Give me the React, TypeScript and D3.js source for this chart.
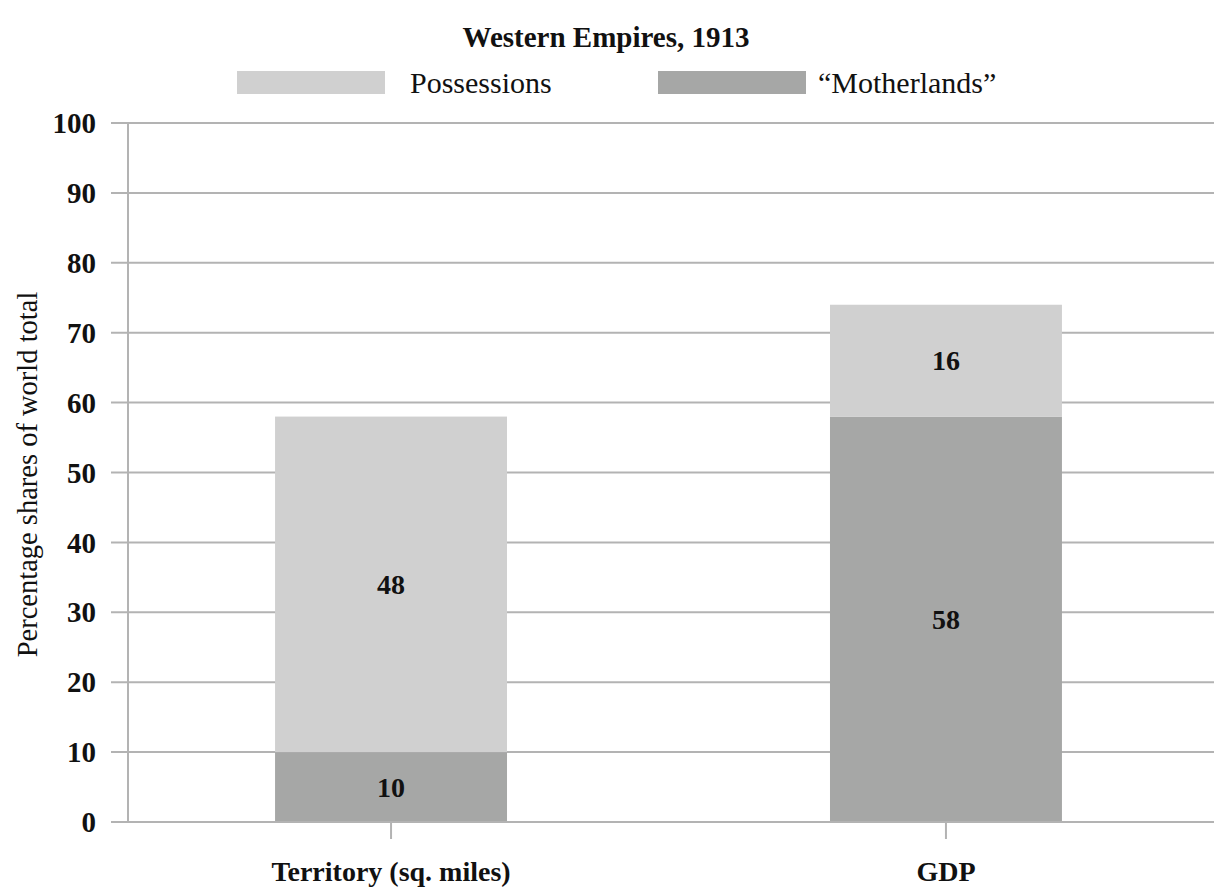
import React from "react";
import * as d3 from "d3";

const categories = ["Territory (sq. miles)", "GDP"];
const motherlands = [10, 58];
const possessions = [48, 16];
const yTicks = [0, 10, 20, 30, 40, 50, 60, 70, 80, 90, 100];
const seriesNames = ["Possessions", "\u201CMotherlands\u201D"];
const title = "Western Empires, 1913";
const yLabel = "Percentage shares of world total";

const W = 1214;
const H = 888;
const FONT = "'Liberation Serif', 'DejaVu Serif', serif";
const C_POS = "#d0d0d0";
const C_MOT = "#a6a7a6";
const C_GRID = "#b3b3b3";

export default function App() {
  const x = d3
    .scaleBand<string>()
    .domain(categories)
    .range([128, 1209])
    .paddingInner(0.582)
    .paddingOuter(0.265);
  const y = d3.scaleLinear().domain([0, 100]).range([822, 123]);

  const stacked = categories.map((c, i) => ({
    cat: c,
    segs: [
      { key: "mot", y0: 0, y1: motherlands[i], v: motherlands[i], color: C_MOT },
      {
        key: "pos",
        y0: motherlands[i],
        y1: motherlands[i] + possessions[i],
        v: possessions[i],
        color: C_POS,
      },
    ],
  }));

  return (
    <svg
      width={W}
      height={H}
      style={{ position: "absolute", left: 0, top: 0, background: "#fff" }}
      fontFamily={FONT}
    >
      <rect width={W} height={H} fill="#fff" />
      <text x={606} y={47} textAnchor="middle" fontSize={29} fontWeight="bold" fill="#111">
        {title}
      </text>
      {/* legend */}
      <rect x={237} y={71} width={148} height={23} fill={C_POS} />
      <text x={410} y={93} fontSize={30} fill="#111">
        {seriesNames[0]}
      </text>
      <rect x={658} y={71} width={148} height={23} fill={C_MOT} />
      <text x={818} y={93} fontSize={30} fill="#111">
        {seriesNames[1]}
      </text>

      {/* grid + ticks */}
      {yTicks.map((t) => (
        <g key={t}>
          <line x1={111} x2={W} y1={y(t)} y2={y(t)} stroke={C_GRID} strokeWidth={2} />
          <text
            x={96}
            y={y(t)}
            dy="0.35em"
            textAnchor="end"
            fontSize={29}
            fontWeight="bold"
            fill="#111"
          >
            {t}
          </text>
        </g>
      ))}
      <line x1={128} x2={128} y1={y(100)} y2={y(0)} stroke={C_GRID} strokeWidth={2} />

      {/* bars */}
      {stacked.map((s) => (
        <g key={s.cat}>
          {s.segs.map((g) => (
            <g key={g.key}>
              <rect
                x={x(s.cat)!}
                width={x.bandwidth()}
                y={y(g.y1)}
                height={y(g.y0) - y(g.y1)}
                fill={g.color}
              />
              <text
                x={x(s.cat)! + x.bandwidth() / 2}
                y={(y(g.y0) + y(g.y1)) / 2}
                dy="0.35em"
                textAnchor="middle"
                fontSize={28}
                fontWeight="bold"
                fill="#111"
              >
                {g.v}
              </text>
            </g>
          ))}
          <line
            x1={x(s.cat)! + x.bandwidth() / 2}
            x2={x(s.cat)! + x.bandwidth() / 2}
            y1={y(0)}
            y2={y(0) + 17}
            stroke={C_GRID}
            strokeWidth={2}
          />
          <text
            x={x(s.cat)! + x.bandwidth() / 2}
            y={881}
            textAnchor="middle"
            fontSize={28}
            fontWeight="bold"
            fill="#111"
          >
            {s.cat}
          </text>
        </g>
      ))}
      <line x1={111} x2={W} y1={y(0)} y2={y(0)} stroke={C_GRID} strokeWidth={2} />

      <text
        transform={`translate(37, ${y(50) + 2}) rotate(-90)`}
        textAnchor="middle"
        fontSize={28.5}
        fill="#111"
      >
        {yLabel}
      </text>
    </svg>
  );
}
